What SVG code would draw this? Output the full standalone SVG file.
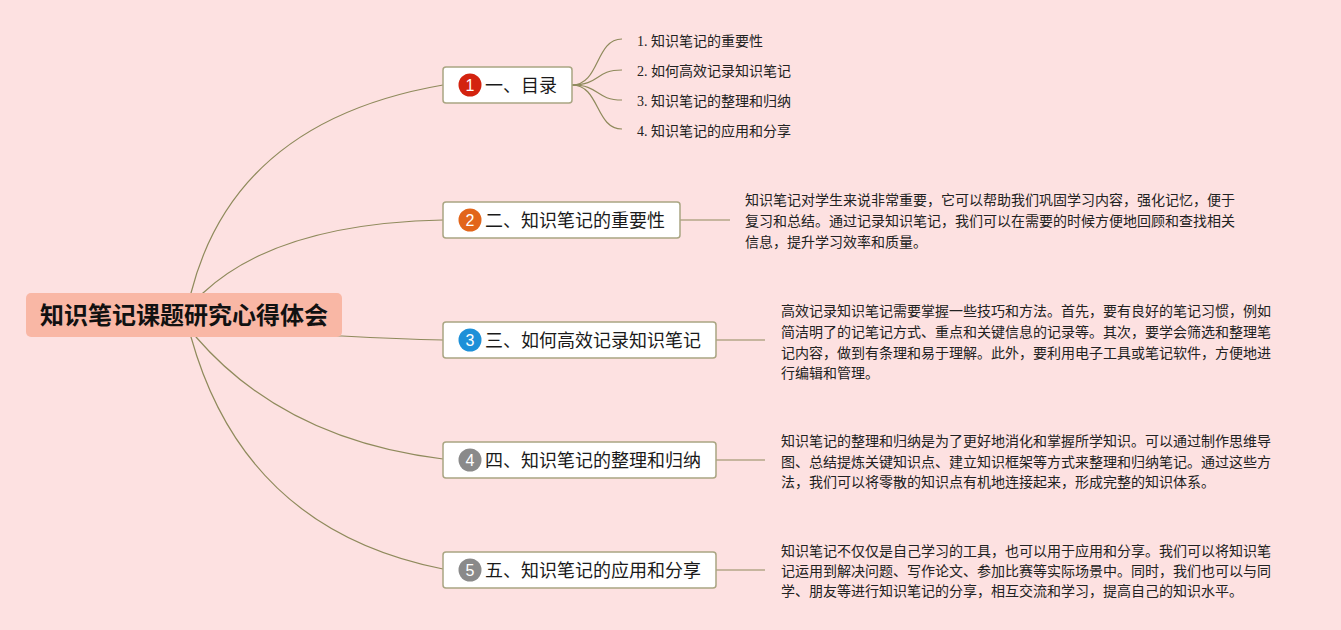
<svg xmlns="http://www.w3.org/2000/svg" width="1341" height="630" viewBox="0 0 1341 630">
<style>
.bg{fill:#fde1e1}
.conn path{fill:none;stroke:#8f8a5c;stroke-width:1.2}
.box{fill:#ffffff;stroke:#a9a582;stroke-width:1.5}
.title{font-family:"Noto Sans CJK SC",sans-serif;font-size:18px;fill:#1a1a1a}
.num{font-family:"Liberation Sans","Noto Sans CJK SC",sans-serif;font-size:16px;fill:#ffffff;text-anchor:middle}
.desc{font-family:"Noto Sans CJK SC",sans-serif;font-size:14px;fill:#222222}
.sub{font-family:"Liberation Serif","Noto Sans CJK SC",serif;font-size:14px;fill:#222222}
</style>
<rect class="bg" x="0" y="0" width="1341" height="630"/>
<g id="connectors" class="conn">
<path d="M188,305 L191,293 Q235,121 443,85"/>
<path d="M190,305 L203,293 Q277,223.5 443,220"/>
<path d="M184,336 L342,336 Q400,339 443,340"/>
<path d="M190,325 L196,337 Q285,440 443,459"/>
<path d="M188,325 L191,337 Q245,530 443,569"/>
<path d="M572,85 C600,85 595,39 622,39"/>
<path d="M572,85 C600,85 595,70 622,70"/>
<path d="M572,85 C600,85 595,100 622,100"/>
<path d="M572,85 C600,85 595,129 622,129"/>
<path d="M680,220 L730,220"/>
<path d="M716,340 L765,340"/>
<path d="M716,460 L765,460"/>
<path d="M716,570 L765,570"/>
</g>
<g id="root">
<rect x="26" y="293" width="316" height="44" rx="5" fill="#f9b7a5"/>
<text x="184" y="324" text-anchor="middle" font-family="Noto Sans CJK SC,sans-serif" font-size="24" font-weight="bold" fill="#111">知识笔记课题研究心得体会</text>
</g>
<g id="node1">
<rect class="box" x="443" y="67" width="129" height="36" rx="3"/>
<circle cx="470" cy="85" r="11.5" fill="#d3230f"/>
<text class="num" x="470" y="91">1</text>
<text class="title" x="485" y="92">一、目录</text>
</g>
<g id="sub1">
<text class="sub" x="637" y="46">1. 知识笔记的重要性</text>
<text class="sub" x="637" y="76">2. 如何高效记录知识笔记</text>
<text class="sub" x="637" y="106">3. 知识笔记的整理和归纳</text>
<text class="sub" x="637" y="136">4. 知识笔记的应用和分享</text>
</g>
<g id="node2">
<rect class="box" x="443" y="202" width="237" height="36" rx="3"/>
<circle cx="470" cy="220" r="11.5" fill="#e2651a"/>
<text class="num" x="470" y="226">2</text>
<text class="title" x="485" y="227">二、知识笔记的重要性</text>
</g>
<g id="desc2">
<text class="desc" x="745" y="205">知识笔记对学生来说非常重要，它可以帮助我们巩固学习内容，强化记忆，便于</text>
<text class="desc" x="745" y="226">复习和总结。通过记录知识笔记，我们可以在需要的时候方便地回顾和查找相关</text>
<text class="desc" x="745" y="247">信息，提升学习效率和质量。</text>
</g>
<g id="node3">
<rect class="box" x="443" y="322" width="273" height="36" rx="3"/>
<circle cx="470" cy="340" r="11.5" fill="#1d90d8"/>
<text class="num" x="470" y="346">3</text>
<text class="title" x="485" y="347">三、如何高效记录知识笔记</text>
</g>
<g id="desc3">
<text class="desc" x="781" y="316">高效记录知识笔记需要掌握一些技巧和方法。首先，要有良好的笔记习惯，例如</text>
<text class="desc" x="781" y="337">简洁明了的记笔记方式、重点和关键信息的记录等。其次，要学会筛选和整理笔</text>
<text class="desc" x="781" y="358">记内容，做到有条理和易于理解。此外，要利用电子工具或笔记软件，方便地进</text>
<text class="desc" x="781" y="378">行编辑和管理。</text>
</g>
<g id="node4">
<rect class="box" x="443" y="442" width="273" height="36" rx="3"/>
<circle cx="470" cy="460" r="11.5" fill="#8a8a8a"/>
<text class="num" x="470" y="466">4</text>
<text class="title" x="485" y="467">四、知识笔记的整理和归纳</text>
</g>
<g id="desc4">
<text class="desc" x="781" y="446">知识笔记的整理和归纳是为了更好地消化和掌握所学知识。可以通过制作思维导</text>
<text class="desc" x="781" y="467">图、总结提炼关键知识点、建立知识框架等方式来整理和归纳笔记。通过这些方</text>
<text class="desc" x="781" y="487">法，我们可以将零散的知识点有机地连接起来，形成完整的知识体系。</text>
</g>
<g id="node5">
<rect class="box" x="443" y="552" width="273" height="36" rx="3"/>
<circle cx="470" cy="570" r="11.5" fill="#8a8a8a"/>
<text class="num" x="470" y="576">5</text>
<text class="title" x="485" y="577">五、知识笔记的应用和分享</text>
</g>
<g id="desc5">
<text class="desc" x="781" y="556">知识笔记不仅仅是自己学习的工具，也可以用于应用和分享。我们可以将知识笔</text>
<text class="desc" x="781" y="576">记运用到解决问题、写作论文、参加比赛等实际场景中。同时，我们也可以与同</text>
<text class="desc" x="781" y="596">学、朋友等进行知识笔记的分享，相互交流和学习，提高自己的知识水平。</text>
</g>
</svg>
